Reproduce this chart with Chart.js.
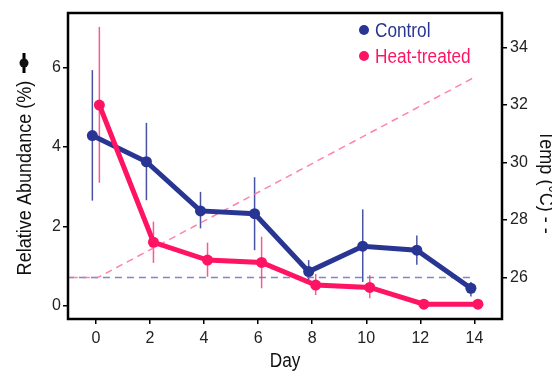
<!DOCTYPE html>
<html>
<head>
<meta charset="utf-8">
<script src="https://cdn.jsdelivr.net/npm/chart.js@4.4.1/dist/chart.umd.min.js"></script>
<style>
  html, body { margin: 0; padding: 0; background: #fff; }
</style>
</head>
<body>
<canvas id="chart" width="552" height="374"></canvas>
<script>
const days = [0, 2, 4, 6, 8, 10, 12, 14];
const controlMean = [4.29, 3.63, 2.39, 2.32, 0.86, 1.50, 1.40, 0.44];
const controlLow = [2.65, 2.66, 1.95, 1.40, 0.60, 0.60, 1.03, 0.23];
const controlHigh = [5.94, 4.61, 2.87, 3.24, 1.15, 2.43, 1.77, 0.60];
const heatMean = [5.06, 1.60, 1.15, 1.09, 0.52, 0.46, 0.04, 0.04];
const heatLow = [3.10, 1.08, 0.73, 0.44, 0.27, 0.19, 0.04, 0.04];
const heatHigh = [7.03, 2.12, 1.59, 1.74, 0.80, 0.77, 0.04, 0.04];
const tempDays = [-1, 0, 14];
const controlTemp = [26, 26, 26];
const heatTemp = [26, 26, 33];
const xTicks = [0, 2, 4, 6, 8, 10, 12, 14];
const yTicks = [0, 2, 4, 6];
const y2Ticks = [26, 28, 30, 32, 34];

const FONT = "'Liberation Sans', Arial, sans-serif";
const BLUE = '#283593';
const PINK = '#ff1464';
const DODGE = 0.13;
const SQUEEZE = 0.86; // fake a condensed face

function toPoints(xs, ys, shift) {
    return xs.map((d, i) => ({ x: d + shift, y: ys[i] }));
}

// draws text horizontally squeezed, optionally rotated
function narrowText(ctx, text, x, y, align, angle) {
    ctx.save();
    ctx.translate(x, y);
    if (angle) ctx.rotate(angle);
    ctx.scale(SQUEEZE, 1);
    ctx.textAlign = align;
    ctx.fillText(text, 0, 0);
    ctx.restore();
}

const errorBars = {
    id: 'errorBars',
    beforeDatasetsDraw(chart) {
        const ctx = chart.ctx;
        const xs = chart.scales.x, ys = chart.scales.y;
        const groups = [
            { lo: controlLow, hi: controlHigh, shift: -DODGE, color: 'rgba(40,53,147,0.85)' },
            { lo: heatLow, hi: heatHigh, shift: DODGE, color: 'rgba(255,60,120,0.85)' }
        ];
        ctx.save();
        ctx.lineWidth = 1.5;
        groups.forEach(g => {
            ctx.strokeStyle = g.color;
            days.forEach((d, i) => {
                const px = xs.getPixelForValue(d + g.shift);
                ctx.beginPath();
                ctx.moveTo(px, ys.getPixelForValue(g.lo[i]));
                ctx.lineTo(px, ys.getPixelForValue(g.hi[i]));
                ctx.stroke();
            });
        });
        ctx.restore();
    }
};

const decorations = {
    id: 'decorations',
    afterDraw(chart) {
        const ctx = chart.ctx;
        const a = chart.chartArea;
        ctx.save();
        // frame
        ctx.strokeStyle = '#000';
        ctx.lineWidth = 2.5;
        ctx.strokeRect(a.left, a.top, a.right - a.left, a.bottom - a.top);

        ctx.fillStyle = '#111';
        ctx.textBaseline = 'middle';
        ctx.font = '20px ' + FONT;
        narrowText(ctx, 'Day', (a.left + a.right) / 2, 361, 'center');
        ctx.font = '21px ' + FONT;
        narrowText(ctx, 'Relative Abundance (%)', 25, 178, 'center', -Math.PI / 2);
        narrowText(ctx, 'Temp (°C) - -', 546, 182, 'center', Math.PI / 2);

        // pointrange glyph in front of the left title
        ctx.strokeStyle = '#000';
        ctx.lineWidth = 3;
        ctx.beginPath();
        ctx.moveTo(24, 53);
        ctx.lineTo(24, 73);
        ctx.stroke();
        ctx.beginPath();
        ctx.arc(24, 63, 4.5, 0, Math.PI * 2);
        ctx.fill();

        // legend
        ctx.font = '20px ' + FONT;
        const items = [['Control', BLUE, 30], ['Heat-treated', PINK, 56]];
        items.forEach(([label, color, y]) => {
            ctx.fillStyle = color;
            ctx.beginPath();
            ctx.arc(364, y, 5, 0, Math.PI * 2);
            ctx.fill();
            narrowText(ctx, label, 375, y + 1, 'left');
        });
        ctx.restore();
    }
};

const tickFont = { family: FONT, size: 16 };
const gridOpts = { drawOnChartArea: false, drawTicks: true, tickLength: 5, color: '#000', lineWidth: 1.5 };

new Chart(document.getElementById('chart').getContext('2d'), {
    type: 'line',
    data: {
        datasets: [
            {
                data: toPoints(tempDays, controlTemp, -0.07),
                yAxisID: 'y2',
                borderColor: 'rgba(110,110,190,0.85)',
                borderWidth: 1.5,
                borderDash: [7, 5],
                pointRadius: 0,
                order: 4
            },
            {
                data: toPoints(tempDays, heatTemp, 0.07),
                yAxisID: 'y2',
                borderColor: 'rgba(255,110,150,0.85)',
                borderWidth: 1.5,
                borderDash: [7, 5],
                pointRadius: 0,
                order: 3
            },
            {
                label: 'Control',
                data: toPoints(days, controlMean, -DODGE),
                yAxisID: 'y',
                borderColor: BLUE,
                backgroundColor: BLUE,
                borderWidth: 5,
                pointRadius: 5.5,
                pointBorderWidth: 0,
                order: 2
            },
            {
                label: 'Heat-treated',
                data: toPoints(days, heatMean, DODGE),
                yAxisID: 'y',
                borderColor: PINK,
                backgroundColor: PINK,
                borderWidth: 5,
                pointRadius: 5.5,
                pointBorderWidth: 0,
                order: 1
            }
        ]
    },
    options: {
        responsive: false,
        animation: false,
        devicePixelRatio: 1,
        layout: { padding: { top: 13, left: 0, right: 0, bottom: 0 } },
        plugins: { legend: { display: false }, tooltip: { enabled: false } },
        scales: {
            x: {
                type: 'linear',
                min: -1.03,
                max: 15.02,
                afterBuildTicks: s => { s.ticks = xTicks.map(v => ({ value: v })); },
                afterFit: s => { s.height = 55; },
                ticks: { font: tickFont, color: '#222', padding: 5, maxRotation: 0 },
                grid: gridOpts,
                border: { display: false }
            },
            y: {
                position: 'left',
                min: -0.335,
                max: 7.38,
                afterBuildTicks: s => { s.ticks = yTicks.map(v => ({ value: v })); },
                afterFit: s => { s.width = 68; },
                ticks: { font: tickFont, color: '#222', padding: 2 },
                grid: gridOpts,
                border: { display: false }
            },
            y2: {
                position: 'right',
                min: 24.56,
                max: 35.2,
                afterBuildTicks: s => { s.ticks = y2Ticks.map(v => ({ value: v })); },
                afterFit: s => { s.width = 50; },
                ticks: { font: tickFont, color: '#222', padding: 3 },
                grid: gridOpts,
                border: { display: false }
            }
        }
    },
    plugins: [errorBars, decorations]
});
</script>
</body>
</html>
